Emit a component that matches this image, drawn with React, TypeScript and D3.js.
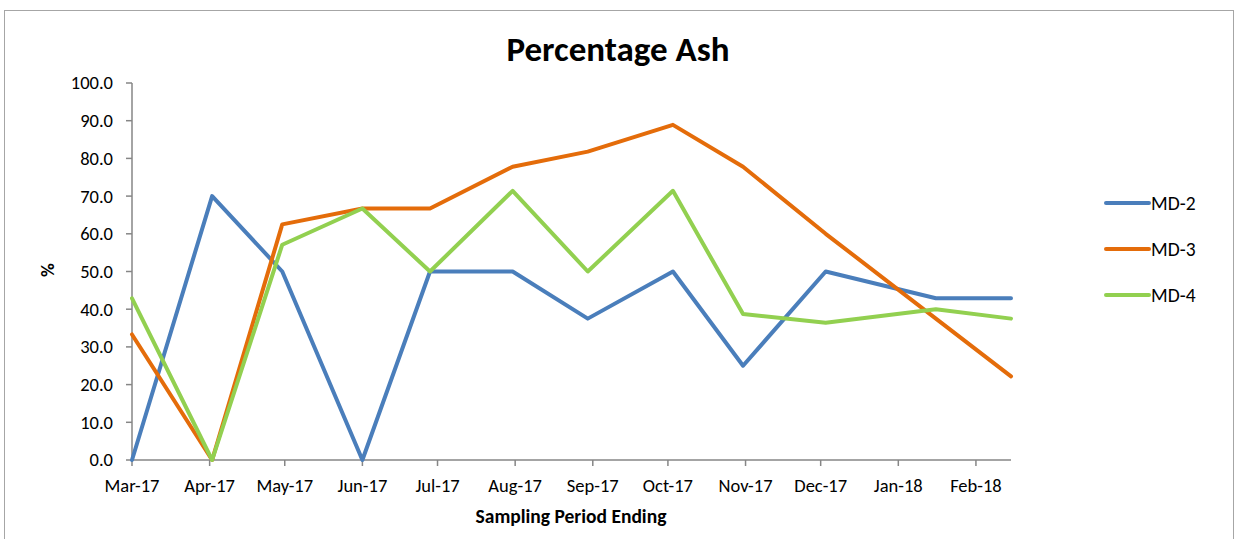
import React, { useEffect } from "react";
import * as d3 from "d3";

// sampling dates (end of each sampling period)
const sampleDates = [
  "2017-03-01", "2017-04-02", "2017-04-30", "2017-06-01", "2017-06-28", "2017-07-31",
  "2017-08-30", "2017-10-03", "2017-10-31", "2017-12-03", "2018-01-16", "2018-02-15",
];

const md2 = [0, 70, 50, 0, 50, 50, 37.5, 50, 25, 50, 42.9, 42.9];
const md3 = [33.3, 0, 62.5, 66.7, 66.7, 77.8, 81.8, 88.9, 77.8, 60, 37.5, 22.2];
const md4 = [42.9, 0, 57.1, 66.7, 50, 71.4, 50, 71.4, 38.7, 36.4, 40, 37.5];

const seriesNames = ["MD-2", "MD-3", "MD-4"];
const seriesColors = ["#4A7EBB", "#E46C0A", "#92D050"];
const yTicks = [0, 10, 20, 30, 40, 50, 60, 70, 80, 90, 100];

const W = 1237;
const H = 539;
const FONT = "Carlito, Calibri, Lato, 'Open Sans', sans-serif";

export default function App() {
  useEffect(() => {
    document.body.style.margin = "0";
  }, []);

  const parse = d3.timeParse("%Y-%m-%d");
  const dates = sampleDates.map((s) => parse(s) as Date);
  const x = d3
    .scaleTime()
    .domain([dates[0], dates[dates.length - 1]])
    .range([132, 1011]);
  const y = d3.scaleLinear().domain([0, 100]).range([460, 83]);

  const monthTicks = d3.timeMonth.range(dates[0], dates[dates.length - 1]);
  const fmt = d3.timeFormat("%b-%y");

  const all = [md2, md3, md4];
  const line = d3
    .line<number>()
    .x((_, i) => x(dates[i]))
    .y((d) => y(d));

  const axisColor = "#868686";
  const [x0, x1] = x.range();
  const [yb, yt] = y.range();

  return (
    <svg width={W} height={H} style={{ display: "block", background: "#fff" }} fontFamily={FONT}>
      <rect x={4.5} y={10.5} width={1229} height={H + 20} fill="#fff" stroke="#a6a6a6" strokeWidth={1} />
      <text x={618} y={61} textAnchor="middle" fontSize={35} fontWeight="bold" fill="#000">
        Percentage Ash
      </text>

      {/* y axis */}
      <line x1={x0} x2={x0} y1={yt} y2={yb} stroke={axisColor} strokeWidth={1.5} />
      {yTicks.map((t) => (
        <g key={t}>
          <line x1={x0 - 6} x2={x0} y1={y(t)} y2={y(t)} stroke={axisColor} strokeWidth={1.5} />
          <text x={113} y={y(t)} dy="0.35em" textAnchor="end" fontSize={18.5} fill="#000">
            {t.toFixed(1)}
          </text>
        </g>
      ))}
      <text
        transform={`translate(54,270) rotate(-90)`}
        textAnchor="middle"
        fontSize={19}
        fontWeight="bold"
      >
        %
      </text>

      {/* x axis */}
      <line x1={x0} x2={x1} y1={yb} y2={yb} stroke={axisColor} strokeWidth={1.5} />
      {monthTicks.map((d) => (
        <g key={+d}>
          <line x1={x(d)} x2={x(d)} y1={yb} y2={yb + 6} stroke={axisColor} strokeWidth={1.5} />
          <text x={x(d)} y={492} textAnchor="middle" fontSize={18.5} fill="#000">
            {fmt(d)}
          </text>
        </g>
      ))}
      <text x={571} y={523} textAnchor="middle" fontSize={19.5} fontWeight="bold">
        Sampling Period Ending
      </text>

      {/* series */}
      {all.map((vals, i) => (
        <path
          key={seriesNames[i]}
          d={line(vals) || ""}
          fill="none"
          stroke={seriesColors[i]}
          strokeWidth={4}
          strokeLinejoin="round"
          strokeLinecap="round"
        />
      ))}

      {/* legend */}
      {seriesNames.map((n, i) => (
        <g key={n} transform={`translate(1106, ${203 + i * 46})`}>
          <line x1={0} x2={43} y1={0} y2={0} stroke={seriesColors[i]} strokeWidth={4} strokeLinecap="round" />
          <text x={45} y={0} dy="0.35em" fontSize={19.5} fill="#000">
            {n}
          </text>
        </g>
      ))}
    </svg>
  );
}
